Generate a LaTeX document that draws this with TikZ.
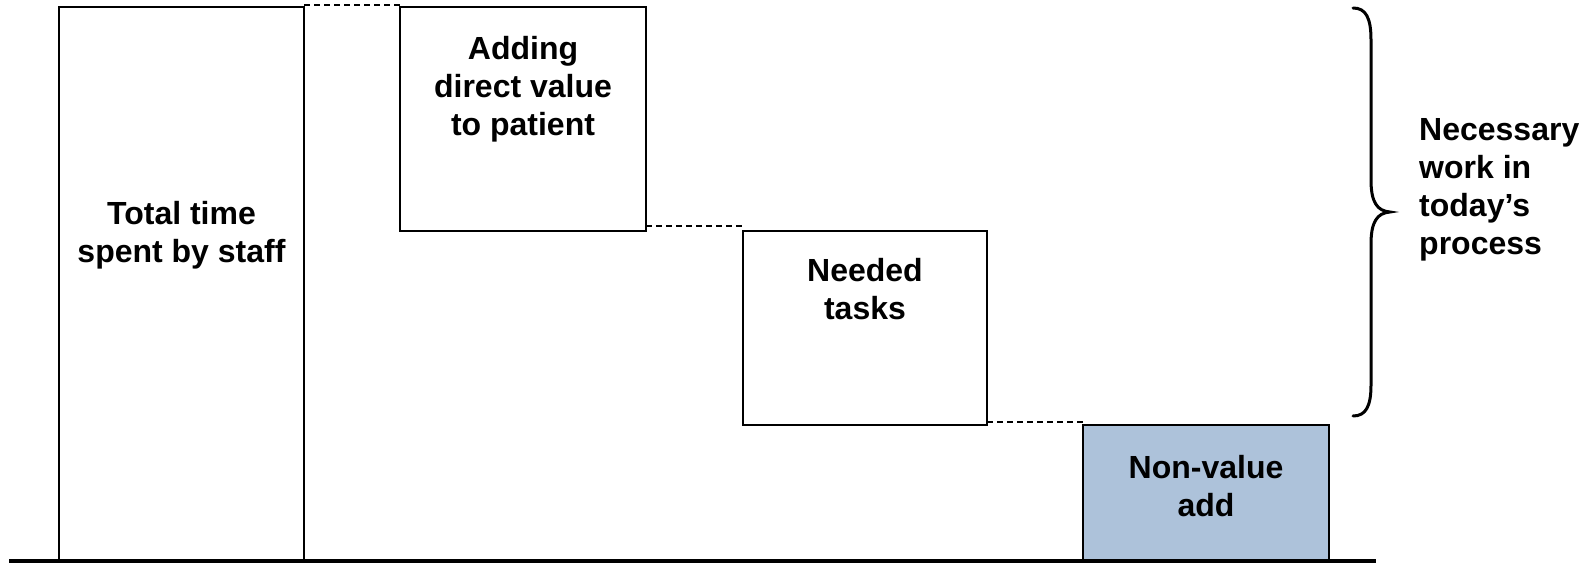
\documentclass[tikz,border=0pt]{standalone}
\usepackage{fontspec}
\setmainfont{Liberation Sans}
\begin{document}
\begin{tikzpicture}[x=1pt,y=-1pt,
  bar/.style={draw=black,line width=1.7pt,inner sep=0pt,outer sep=0pt,anchor=north west},
  label/.style={font=\fontsize{32}{38}\selectfont\bfseries,align=center,inner sep=0pt},
  step link/.style={draw=black,line width=1.6pt,dash pattern=on 6pt off 4pt},
  brace line/.style={draw=black,line width=3pt,line cap=round}]
\useasboundingbox (0,0) rectangle (1593,564);
\definecolor{nvafill}{RGB}{173,194,218}

% bars of the waterfall
\node[bar,minimum width=245pt,minimum height=554pt] (total) at (59,7) {};
\node[bar,minimum width=246pt,minimum height=224pt] (direct) at (400,7) {};
\node[bar,minimum width=244pt,minimum height=194pt] (needed) at (743,231) {};
\node[bar,fill=nvafill,minimum width=246pt,minimum height=136pt] (nva) at (1083,425) {};

% bar captions
\node[label] (totalT) at (181.5,235) {Total time\\spent by staff};
\node[label] (directT) at (523,89) {Adding\\direct value\\to patient};
\node[label] (neededT) at (865,289) {Needed\\tasks};
\node[label] (nvaT) at (1206,486) {Non-value\\add};

% dashed steps between bars
\draw[step link] ([yshift=2pt]total.north east) -- ([yshift=2pt]direct.north west);
\draw[step link] ([yshift=5pt]direct.south east) -- ([yshift=5pt]needed.north west);
\draw[step link] ([yshift=3pt]needed.south east) -- ([yshift=3pt]nva.north west);

% axis
\coordinate (axisL) at (9,561);
\coordinate (axisR) at (1376,561);
\draw[line width=3.5pt] (axisL) -- (axisR);

% brace over the necessary work
\draw[brace line] (1353,8) .. controls (1366,8) and (1371,18) .. (1371,40)
  -- (1371,180) .. controls (1371,202) and (1377,211) .. (1390,212)
  .. controls (1377,213) and (1371,222) .. (1371,244)
  -- (1371,385) .. controls (1371,406) and (1366,416) .. (1353,416);
\node[label,align=left,anchor=west] (braceT) at (1419,190) {Necessary\\work in\\today’s\\process};
\end{tikzpicture}
\end{document}
